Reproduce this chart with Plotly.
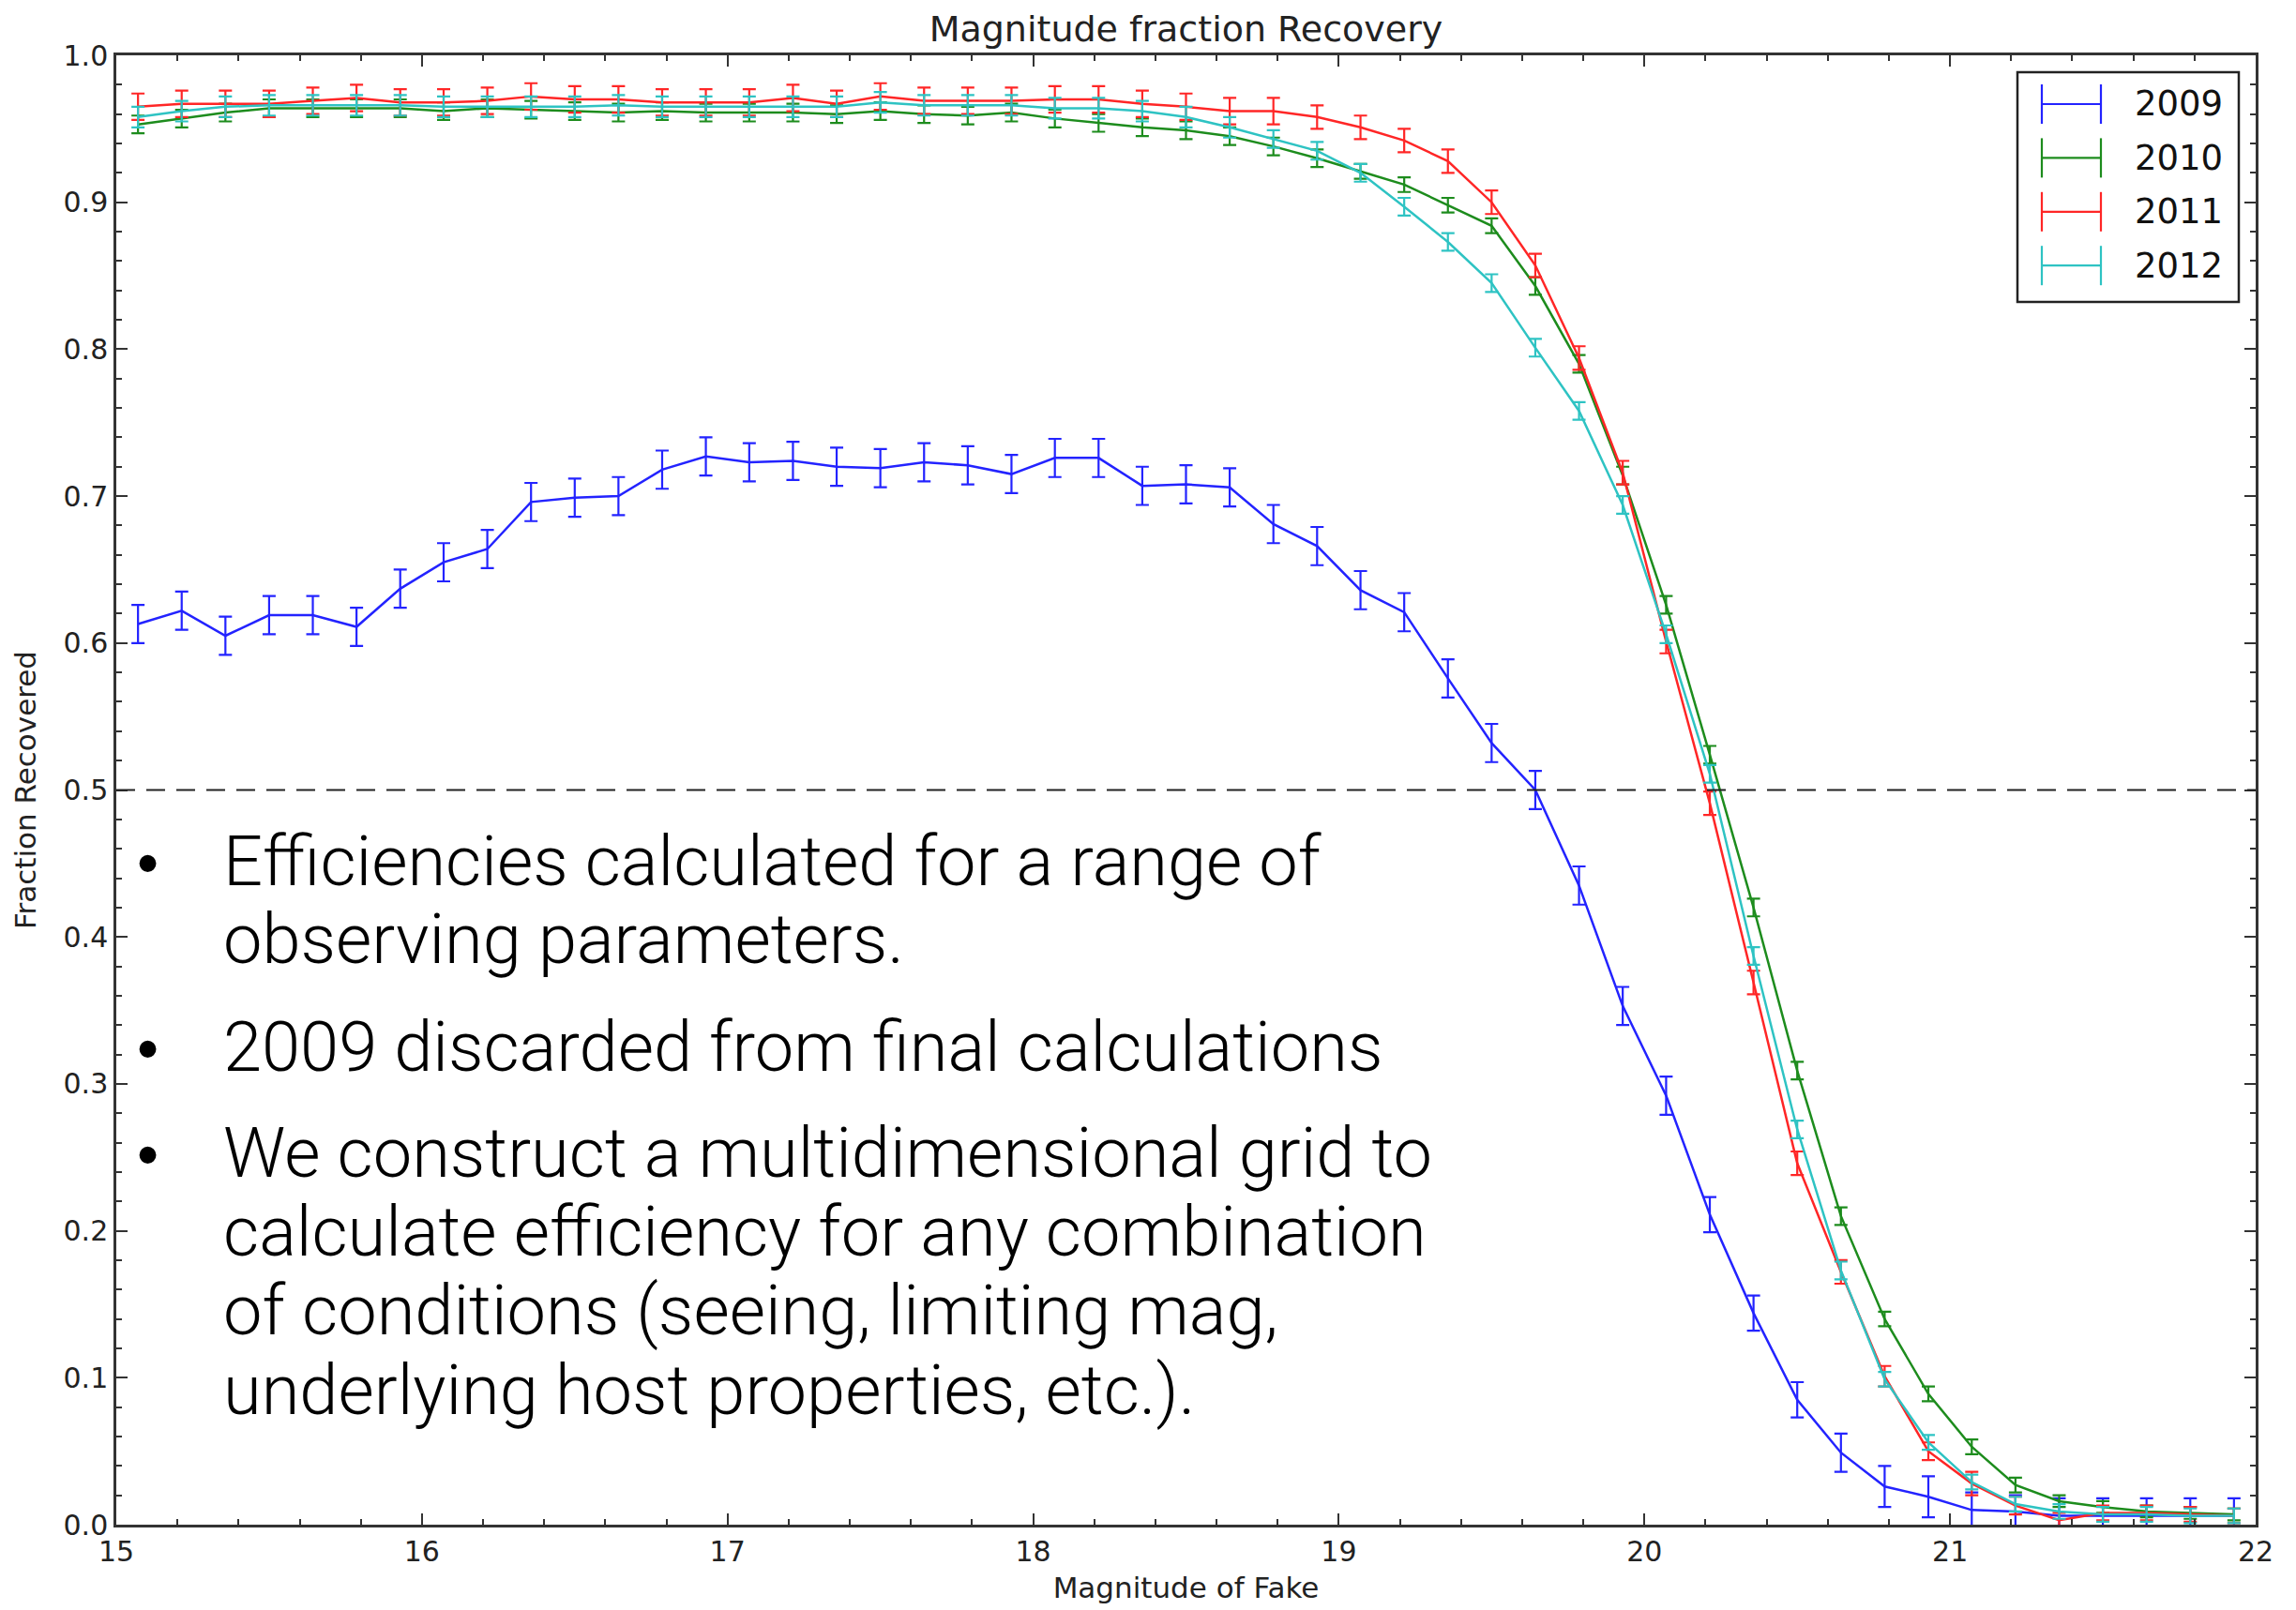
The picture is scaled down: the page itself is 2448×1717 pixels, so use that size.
import plotly.graph_objects as go

# ---------------- data ----------------
magnitude = [15.071, 15.214, 15.357, 15.500, 15.643, 15.786, 15.929, 16.071, 16.214, 16.357,
             16.500, 16.643, 16.786, 16.929, 17.071, 17.214, 17.357, 17.500, 17.643, 17.786,
             17.929, 18.071, 18.214, 18.357, 18.500, 18.643, 18.786, 18.929, 19.071, 19.214,
             19.357, 19.500, 19.643, 19.786, 19.929, 20.071, 20.214, 20.357, 20.500, 20.643,
             20.786, 20.929, 21.071, 21.214, 21.357, 21.500, 21.643, 21.786, 21.929]

frac_2009 = [0.613, 0.622, 0.605, 0.619, 0.619, 0.611, 0.637, 0.655, 0.664, 0.696,
             0.699, 0.700, 0.718, 0.727, 0.723, 0.724, 0.720, 0.719, 0.723, 0.721,
             0.715, 0.726, 0.726, 0.707, 0.708, 0.706, 0.681, 0.666, 0.636, 0.621,
             0.576, 0.532, 0.500, 0.435, 0.353, 0.292, 0.211, 0.144, 0.085, 0.049,
             0.026, 0.019, 0.010, 0.009, 0.006, 0.006, 0.006, 0.006, 0.006]
err_2009 = [0.013, 0.013, 0.013, 0.013, 0.013, 0.013, 0.013, 0.013, 0.013, 0.013,
            0.013, 0.013, 0.013, 0.013, 0.013, 0.013, 0.013, 0.013, 0.013, 0.013,
            0.013, 0.013, 0.013, 0.013, 0.013, 0.013, 0.013, 0.013, 0.013, 0.013,
            0.013, 0.013, 0.013, 0.013, 0.013, 0.013, 0.012, 0.012, 0.012, 0.013,
            0.014, 0.014, 0.012, 0.011, 0.012, 0.012, 0.012, 0.012, 0.012]

frac_2010 = [0.953, 0.957, 0.961, 0.964, 0.964, 0.964, 0.964, 0.962, 0.964, 0.963,
             0.962, 0.961, 0.962, 0.961, 0.961, 0.961, 0.960, 0.962, 0.960, 0.959,
             0.961, 0.957, 0.954, 0.951, 0.949, 0.945, 0.938, 0.930, 0.921, 0.912,
             0.898, 0.884, 0.843, 0.790, 0.714, 0.626, 0.524, 0.420, 0.309, 0.210,
             0.140, 0.089, 0.053, 0.027, 0.016, 0.012, 0.009, 0.008, 0.007]
err_2010 = [0.006, 0.006, 0.006, 0.006, 0.006, 0.006, 0.006, 0.006, 0.006, 0.006,
            0.006, 0.006, 0.006, 0.006, 0.006, 0.006, 0.006, 0.006, 0.006, 0.006,
            0.006, 0.006, 0.006, 0.006, 0.006, 0.006, 0.006, 0.006, 0.005, 0.005,
            0.005, 0.005, 0.006, 0.006, 0.006, 0.006, 0.006, 0.006, 0.006, 0.006,
            0.005, 0.005, 0.005, 0.005, 0.004, 0.004, 0.004, 0.004, 0.004]

frac_2011 = [0.965, 0.967, 0.967, 0.967, 0.969, 0.971, 0.968, 0.968, 0.969, 0.972,
             0.970, 0.970, 0.968, 0.968, 0.968, 0.971, 0.967, 0.972, 0.969, 0.969,
             0.969, 0.970, 0.970, 0.967, 0.965, 0.962, 0.962, 0.958, 0.951, 0.942,
             0.928, 0.900, 0.857, 0.794, 0.716, 0.601, 0.491, 0.369, 0.246, 0.172,
             0.101, 0.050, 0.028, 0.013, 0.003, 0.008, 0.008, 0.007, 0.006]
err_2011 = [0.009, 0.009, 0.009, 0.009, 0.009, 0.009, 0.009, 0.009, 0.009, 0.009,
            0.009, 0.009, 0.009, 0.009, 0.009, 0.009, 0.009, 0.009, 0.009, 0.009,
            0.009, 0.009, 0.009, 0.009, 0.009, 0.009, 0.009, 0.008, 0.008, 0.008,
            0.008, 0.008, 0.008, 0.008, 0.008, 0.008, 0.008, 0.008, 0.008, 0.008,
            0.007, 0.006, 0.008, 0.006, 0.005, 0.005, 0.005, 0.005, 0.005]

frac_2012 = [0.958, 0.962, 0.965, 0.966, 0.966, 0.966, 0.966, 0.965, 0.965, 0.965,
             0.965, 0.966, 0.965, 0.965, 0.965, 0.965, 0.965, 0.968, 0.966, 0.966,
             0.966, 0.964, 0.964, 0.962, 0.958, 0.951, 0.943, 0.935, 0.920, 0.897,
             0.873, 0.845, 0.801, 0.758, 0.694, 0.606, 0.511, 0.387, 0.269, 0.173,
             0.099, 0.056, 0.029, 0.014, 0.009, 0.007, 0.007, 0.006, 0.006]
err_2012 = [0.007, 0.007, 0.007, 0.007, 0.007, 0.007, 0.007, 0.007, 0.007, 0.007,
            0.007, 0.007, 0.007, 0.007, 0.007, 0.007, 0.007, 0.007, 0.007, 0.007,
            0.007, 0.007, 0.007, 0.007, 0.007, 0.007, 0.006, 0.006, 0.006, 0.006,
            0.006, 0.006, 0.006, 0.006, 0.006, 0.006, 0.006, 0.006, 0.006, 0.006,
            0.005, 0.005, 0.005, 0.005, 0.005, 0.005, 0.005, 0.005, 0.005]

years = ["2009", "2010", "2011", "2012"]
fractions = [frac_2009, frac_2010, frac_2011, frac_2012]
errors = [err_2009, err_2010, err_2011, err_2012]
colors = ["#2323ff", "#1d8c1d", "#ff2626", "#2ec3c3"]

threshold = 0.5
x_ticks = [15, 16, 17, 18, 19, 20, 21, 22]

title_text = "Magnitude fraction Recovery"
x_title = "Magnitude of Fake"
y_title = "Fraction Recovered"

bullet_lines = [
    ("•", "Efficiencies calculated for a range of"),
    ("", "observing parameters."),
    ("•", "2009 discarded from final calculations"),
    ("•", "We construct a multidimensional grid to"),
    ("", "calculate efficiency for any combination"),
    ("", "of conditions (seeing, limiting mag,"),
    ("", "underlying host properties, etc.)."),
]

# ---------------- figure ----------------
W, H = 2448, 1717
L, R, T, B = 124, 43, 59, 91
plot_w = W - L - R
plot_h = H - T - B

def px_x(px):
    return (px - L) / plot_w

def px_y(py):
    return (H - B - py) / plot_h

fig = go.Figure()

for name, ys, es, col in zip(years, fractions, errors, colors):
    fig.add_trace(go.Scatter(
        x=magnitude, y=ys, mode="lines", name=name,
        line=dict(color=col, width=2.5),
        error_y=dict(type="data", array=es, visible=True, color=col,
                     thickness=2.2, width=7),
        showlegend=False,
    ))

# dashed 50% line
fig.add_shape(type="line", xref="paper", x0=0, x1=1, yref="y",
              y0=threshold, y1=threshold,
              line=dict(color="#222222", width=2.2, dash="20px,12px"))

axis_common = dict(
    showline=True, linecolor="#333333", linewidth=2.5, mirror="ticks",
    ticks="inside", ticklen=12, tickwidth=2, tickcolor="#333333",
    showgrid=False, zeroline=False,
    tickfont=dict(family="DejaVu Sans", size=30, color="#222222"),
)

fig.update_xaxes(
    range=[15, 22], tickvals=x_ticks,
    minor=dict(ticks="inside", dtick=0.2, ticklen=6, tickwidth=1.5,
               tickcolor="#333333", showgrid=False),
    title=dict(text=x_title, font=dict(family="DejaVu Sans", size=31, color="#222222"),
               standoff=12),
    **axis_common,
)
fig.update_yaxes(
    range=[0, 1], dtick=0.1, tick0=0, tickformat=".1f",
    minor=dict(ticks="inside", dtick=0.02, ticklen=6, tickwidth=1.5,
               tickcolor="#333333", showgrid=False),
    title=dict(text=y_title, font=dict(family="DejaVu Sans", size=31, color="#222222"),
               standoff=20),
    **axis_common,
)

# custom legend (error-bar style glyphs)
box_x0, box_x1 = px_x(2151), px_x(2387)
box_y0, box_y1 = px_y(322), px_y(77)
fig.add_shape(type="rect", xref="paper", yref="paper",
              x0=box_x0, x1=box_x1, y0=box_y0, y1=box_y1,
              line=dict(color="#222222", width=2.5), fillcolor="white", layer="above")
row_px = [111, 168.4, 225.8, 283.2]
g_x0, g_x1 = px_x(2177), px_x(2240)
cap = 21 / plot_h
for name, col, rp in zip(years, colors, row_px):
    yc = px_y(rp)
    fig.add_shape(type="line", xref="paper", yref="paper", x0=g_x0, x1=g_x1, y0=yc, y1=yc,
                  line=dict(color=col, width=2.2), layer="above")
    for gx in (g_x0, g_x1):
        fig.add_shape(type="line", xref="paper", yref="paper", x0=gx, x1=gx,
                      y0=yc - cap, y1=yc + cap, line=dict(color=col, width=2.2), layer="above")
    fig.add_annotation(xref="paper", yref="paper", x=px_x(2274), y=yc,
                       xanchor="left", yanchor="middle", text=name, showarrow=False,
                       font=dict(family="DejaVu Sans", size=37, color="#111111"))

# bullet text overlay
line_centers = [918, 1002, 1116, 1229, 1313, 1397, 1482]
for (bullet, txt), cy in zip(bullet_lines, line_centers):
    if bullet:
        fig.add_annotation(xref="paper", yref="paper", x=px_x(157), y=px_y(cy + 2),
                           xanchor="center", yanchor="middle", text=bullet, showarrow=False,
                           font=dict(family="Liberation Sans", size=66, color="#000000"))
    fig.add_annotation(xref="paper", yref="paper", x=px_x(236), y=px_y(cy),
                       xanchor="left", yanchor="middle", text=txt, showarrow=False,
                       font=dict(family="Roboto, Liberation Sans", size=74,
                                 color="#000000", weight=300))

fig.update_layout(
    width=W, height=H,
    margin=dict(l=L, r=R, t=T, b=B),
    paper_bgcolor="white", plot_bgcolor="white",
    title=dict(text=title_text, x=0.5, xref="paper", xanchor="center",
               y=1 - 31 / H, yref="container", yanchor="middle",
               font=dict(family="DejaVu Sans", size=38, color="#222222")),
    showlegend=False,
)

fig.write_html("out.html")
